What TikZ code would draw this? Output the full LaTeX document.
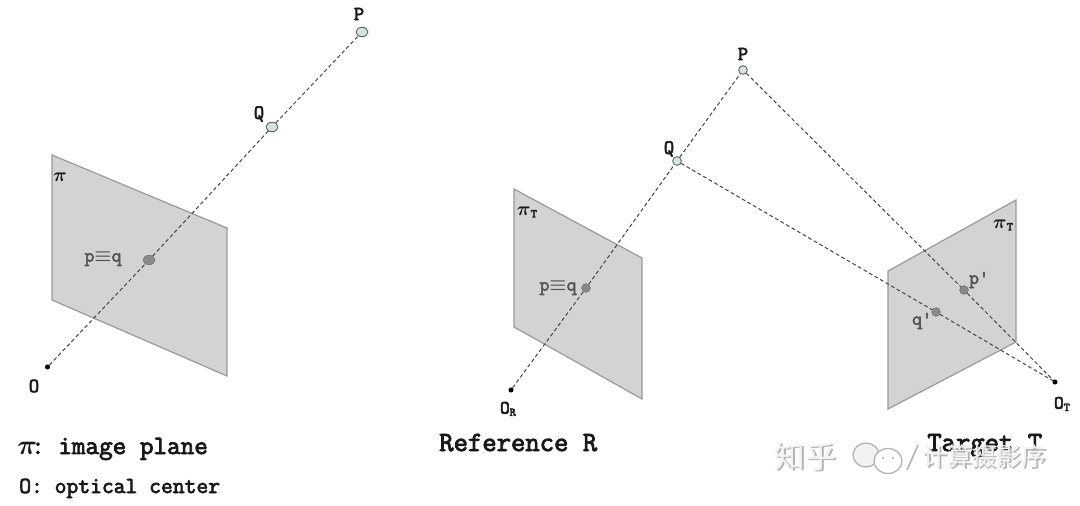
\documentclass[tikz,border=0pt]{standalone}
\usepackage{amsmath}
\usepackage{fontspec}
\setmonofont{Latin Modern Mono}[FakeBold=3]
\newfontfamily\cjk{Noto Sans CJK SC}
\definecolor{planefill}{HTML}{D3D3D3}
\definecolor{planeedge}{HTML}{9A9A9A}
\definecolor{ptfill}{HTML}{D5E3DC}
\definecolor{ptedge}{HTML}{4F6058}
\definecolor{imgfill}{HTML}{8A8A8A}
\definecolor{imgtext}{HTML}{555555}
\definecolor{raycol}{HTML}{444444}
\definecolor{markshade}{HTML}{B4B4B4}
\definecolor{marklight}{HTML}{F2F2F2}
\usetikzlibrary{shapes.geometric}
\tikzset{
  imageplane/.style={draw=planeedge,fill=planefill,line width=0.9pt,line join=miter},
  ray/.style={draw=raycol,line width=0.75pt,dash pattern=on 2.8pt off 2pt},
  worldpt/.style={ellipse,draw=ptedge,fill=ptfill,line width=0.6pt,inner sep=0pt,minimum width=9pt,minimum height=7pt},
  worldptr/.style={circle,draw=ptedge,fill=ptfill,line width=0.6pt,inner sep=0pt,minimum size=6.5pt},
  imgpt/.style={ellipse,fill=imgfill,draw=planeedge!70!black,line width=0.4pt,inner sep=0pt,minimum width=9pt,minimum height=7pt},
  imgptr/.style={circle,fill=imgfill,draw=planeedge!70!black,line width=0.4pt,inner sep=0pt,minimum size=6.5pt},
  centre/.style={circle,fill=black,inner sep=0pt,minimum size=3.8pt},
  lab/.style={font=\ttfamily\boldmath\fontsize{15}{17}\selectfont,inner sep=0pt,text=black!90},
  sublab/.style={font=\ttfamily\boldmath\fontsize{14}{16}\selectfont,inner sep=0pt,text=black!90},
  imglab/.style={font=\ttfamily\boldmath\fontsize{14.5}{17}\selectfont,inner sep=0pt,text=imgtext},
  caption/.style={font=\ttfamily\boldmath\fontsize{20.9}{24}\selectfont,inner sep=0pt,anchor=base west,text=black!90},
  capmid/.style={font=\ttfamily\boldmath\fontsize{19.8}{24}\selectfont,inner sep=0pt,anchor=base west,text=black!90},
  captionsm/.style={font=\ttfamily\fontsize{17.2}{20}\selectfont,inner sep=0pt,anchor=base west,text=black!90},
  wmshade/.style={font=\cjk\fontsize{#1}{26}\selectfont,inner sep=0pt,text=markshade},
  wmlight/.style={font=\cjk\fontsize{#1}{26}\selectfont,inner sep=0pt,text=marklight},
}
\newcommand{\subT}[2]{#1\raisebox{-1.8pt}{\fontsize{9}{10}\selectfont #2}}
\begin{document}
\begin{tikzpicture}[x=0.75pt,y=-0.75pt]
\useasboundingbox (0,0) rectangle (1080,506);
\fill[white] (0,0) rectangle (1080,506);

% single-view figure
\draw[imageplane] (52,155) -- (227,228) -- (227,376) -- (52,300) -- cycle;
\node[centre] (O) at (47.5,367) {};
\node[worldpt] (P) at (362,32) {};
\node[worldpt] (Q) at (272,127) {};
\node[imgpt] (p) at (149,260) {};
\draw[ray] (O) -- (p);
\draw[ray] (p) -- (Q);
\draw[ray] (Q) -- (P);
\node[lab] (Plab) at (359,14) {P};
\node[lab] (Qlab) at (259,114) {Q};
\node[lab] (Olab) at (34,386) {O};
\node[sublab] (pilab) at (60,177) {$\pi$};
\node[imglab] (pqlab) at (103,259) {p$\equiv$q};
\node[capmid] (cap1) at (17,454) {\makebox[0.525em][l]{$\pi$}: image plane};
\node[captionsm] (cap2) at (19,493) {O: optical center};

% reference view
\draw[imageplane] (514,189) -- (642,258) -- (642,399) -- (514,327) -- cycle;
\node[centre] (OR) at (511,390) {};
\node[worldptr] (PR) at (743,70) {};
\node[worldptr] (QR) at (677,161) {};
\node[imgptr] (pR) at (586,288) {};
\draw[ray] (OR) -- (pR);
\draw[ray] (pR) -- (QR);
\draw[ray] (QR) -- (PR);
\node[lab] (PRlab) at (743,54) {P};
\node[lab] (QRlab) at (669,149) {Q};
\node[sublab] (ORlab) at (508,409) {\subT{O}{R}};
\node[sublab] (piR) at (527,212) {\subT{$\pi$}{T}};
\node[imglab] (pqR) at (558,288) {p$\equiv$q};
\node[caption] (cap3) at (439,451) {Reference R};

% target view
\draw[imageplane] (888,271) -- (1016,200) -- (1016,342) -- (888,409) -- cycle;
\node[centre] (OT) at (1055,382) {};
\node[imgptr] (pT) at (964,290) {};
\node[imgptr] (qT) at (936,312) {};
\draw[ray] (PR) -- (pT);
\draw[ray] (pT) -- (OT);
\draw[ray] (QR) -- (qT);
\draw[ray] (qT) -- (OT);
\node[sublab] (piT) at (1003,225) {\subT{$\pi$}{T}};
\node[imglab] (pTlab) at (979,280) {p'};
\node[imglab] (qTlab) at (922,321) {q'};
\node[sublab] (OTlab) at (1062,404) {\subT{O}{T}};
\node[caption] (cap4) at (927,451) {Target T};

% site mark printed across the lower right: a soft shadow with a pale face on top
\node[wmshade=23] (zhs) at (807,458) {知乎};
\node[wmlight=23] (zh) at (805.5,456.5) {知乎};
\node[wmshade=18.5] (wxs) at (986,458) {计算摄影序};
\node[wmlight=18.5] (wx) at (984.5,456.5) {计算摄影序};
\draw[markshade,line width=1pt,fill=marklight] (866,455) ellipse (13 and 12);
\draw[markshade,line width=1pt,fill=white] (888,461) ellipse (14 and 12.5);
\fill[markshade] (883,458) circle (1.2) (893,458) circle (1.2);
\draw[markshade,line width=1.2pt] (907,470) -- (918,445);
\end{tikzpicture}
\end{document}
